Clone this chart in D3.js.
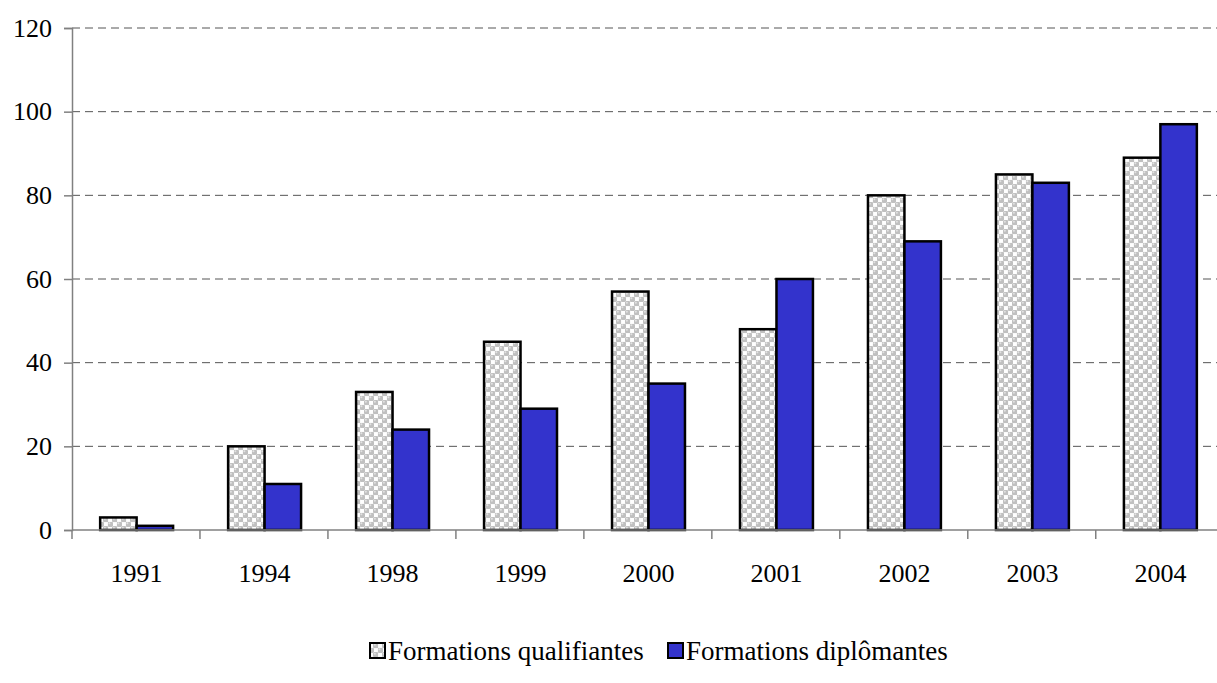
<!DOCTYPE html>
<html><head><meta charset="utf-8">
<script src="https://cdn.jsdelivr.net/npm/d3@7"></script>
<style>body{margin:0;background:#fff}svg{display:block}</style>
</head><body><svg id="c" width="1217" height="683"></svg>
<script>
const categories = ["1991","1994","1998","1999","2000","2001","2002","2003","2004"];
const qualifiantes = [3,20,33,45,57,48,80,85,89];
const diplomantes = [1,11,24,29,35,60,69,83,97];
const yTicks = [0,20,40,60,80,100,120];
const seriesNames = ["Formations qualifiantes","Formations diplômantes"];

const FONT = "Liberation Serif";
const svg = d3.select("#c");
const x0 = 72, x1 = 1225, yTop = 28, yBot = 530;
const x = d3.scaleBand().domain(categories).range([x0,x1]).paddingInner(0.43).paddingOuter(0.22);
const y = d3.scaleLinear().domain([0,120]).range([yBot,yTop]);

const defs = svg.append("defs");
const pat = defs.append("pattern").attr("id","dots").attr("patternUnits","userSpaceOnUse").attr("width",9).attr("height",9);
pat.append("rect").attr("width",9).attr("height",9).attr("fill","#f6f6f6");
[[2.25,2.25],[6.75,6.75]].forEach(([cx,cy])=>{
  pat.append("circle").attr("cx",cx).attr("cy",cy).attr("r",3).attr("fill","#c0c0c0");
  pat.append("circle").attr("cx",cx-0.9).attr("cy",cy-0.9).attr("r",1).attr("fill","#e2e2e2");
});
pat.append("rect").attr("x",5).attr("y",0.5).attr("width",3.5).attr("height",3.5).attr("fill","#ffffff");
pat.append("rect").attr("x",0.5).attr("y",5).attr("width",3.5).attr("height",3.5).attr("fill","#ffffff");

// gridlines
svg.append("g").selectAll("line").data(yTicks.filter(d=>d>0)).join("line")
  .attr("x1",x0).attr("x2",x1).attr("y1",d=>y(d)).attr("y2",d=>y(d))
  .attr("stroke","#555").attr("stroke-width",1).attr("stroke-dasharray","8,5");

// y axis
const ya = svg.append("g").attr("transform",`translate(${x0},0)`)
  .call(d3.axisLeft(y).tickValues(yTicks).tickSize(8).tickPadding(12));
ya.attr("font-family",FONT).attr("font-size",26);
ya.select(".domain").attr("stroke","#808080").attr("stroke-width",1.5);
ya.selectAll(".tick line").attr("stroke","#808080").attr("stroke-width",1.5);
ya.selectAll(".tick text").attr("fill","#000");

// bars
const bw = x.bandwidth()/2;
const g = svg.append("g");
g.selectAll("rect.q").data(categories).join("rect")
  .attr("x",d=>x(d)).attr("width",bw)
  .attr("y",(d,i)=>y(qualifiantes[i])).attr("height",(d,i)=>yBot-y(qualifiantes[i]))
  .attr("fill","url(#dots)").attr("stroke","#000").attr("stroke-width",2.5);
g.selectAll("rect.d").data(categories).join("rect")
  .attr("x",d=>x(d)+bw).attr("width",bw)
  .attr("y",(d,i)=>y(diplomantes[i])).attr("height",(d,i)=>yBot-y(diplomantes[i]))
  .attr("fill","#3333CC").attr("stroke","#000").attr("stroke-width",2.5);

// x axis
const xa = svg.append("g").attr("transform",`translate(0,${yBot})`);
xa.append("line").attr("x1",x0).attr("x2",x1).attr("stroke","#808080").attr("stroke-width",1.5);
const step = x.step();
xa.selectAll("line.t").data(d3.range(categories.length+1)).join("line")
  .attr("x1",i=>x0+i*step).attr("x2",i=>x0+i*step).attr("y1",0).attr("y2",9)
  .attr("stroke","#808080").attr("stroke-width",1.5);
xa.selectAll("text").data(categories).join("text")
  .attr("x",d=>x(d)+x.bandwidth()/2).attr("y",52).attr("text-anchor","middle")
  .attr("font-family",FONT).attr("font-size",26).text(d=>d);

// legend
const lg = svg.append("g");
const items = [{n:seriesNames[0],f:"url(#dots)",x:370},{n:seriesNames[1],f:"#3333CC",x:668}];
items.forEach(it=>{
  lg.append("rect").attr("x",it.x).attr("y",643).attr("width",15).attr("height",15)
    .attr("fill",it.f).attr("stroke","#000").attr("stroke-width",2);
  lg.append("text").attr("x",it.x+18).attr("y",660)
    .attr("font-family",FONT).attr("font-size",27).text(it.n);
});
</script></body></html>
